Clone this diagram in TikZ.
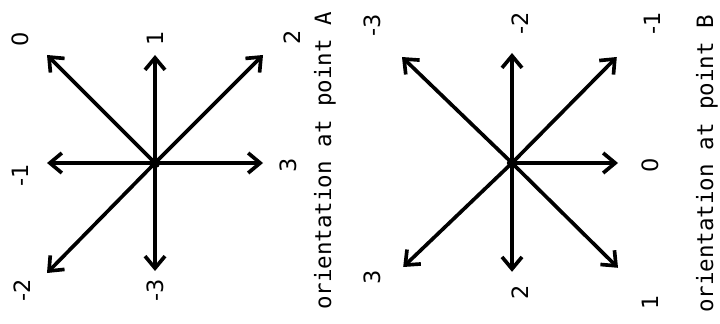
\documentclass[tikz,border=0pt]{standalone}
\usepackage{fontspec}
\setmonofont{DejaVu Sans Mono}
\newfontfamily\digitfont{DejaVu Sans}
\usetikzlibrary{arrows.meta}

\tikzset{
    ray/.style={line width=2.6pt, -{Straight Barb[length=3mm, width=5mm, line width=2.6pt]}},
    lbl/.style={rotate=90, inner sep=0pt, font=\digitfont\fontsize{16}{19}\selectfont},
    caption/.style={rotate=90, inner sep=0pt, font=\ttfamily\fontsize{16}{19}\selectfont},
    hub/.style={circle, fill=black, inner sep=0pt, minimum size=2.6mm}
}

\begin{document}
\begin{tikzpicture}
    \useasboundingbox (0, 0) rectangle (18, 8.075);

    % orientation at point A
    \begin{scope}[shift={(3.875, 4)}]
        \node[hub] (cA) at (0, 0) {};
        \coordinate (aN)  at (0, 2.7);
        \coordinate (aS)  at (0, -2.7);
        \coordinate (aW)  at (-2.7, 0);
        \coordinate (aE)  at (2.7, 0);
        \coordinate (aNW) at (-2.7, 2.7);
        \coordinate (aNE) at (2.7, 2.7);
        \coordinate (aSW) at (-2.7, -2.75);
        \draw[ray] (cA.center) -- (aN);
        \draw[ray] (cA.center) -- (aS);
        \draw[ray] (cA.center) -- (aW);
        \draw[ray] (cA.center) -- (aE);
        \draw[ray] (cA.center) -- (aNW);
        \draw[ray] (cA.center) -- (aNE);
        \draw[ray] (cA.center) -- (aSW);

        \node[lbl] (la0)  at (-3.375, 3.1)   {0};
        \node[lbl] (la1)  at (0, 3.125)      {1};
        \node[lbl] (la2)  at (3.425, 3.15)   {2};
        \node[lbl] (lam1) at (-3.375, -0.3)  {-1};
        \node[lbl] (la3)  at (3.325, -0.05)  {3};
        \node[lbl] (lam2) at (-3.325, -3.175) {-2};
        \node[lbl] (lam3) at (0, -3.175)     {-3};

        \node[caption] (titleA) at (4.25, 0.05) {orientation at point A};
    \end{scope}

    % orientation at point B
    \begin{scope}[shift={(12.8, 4)}]
        \node[hub] (cB) at (0, 0) {};
        \coordinate (bN)  at (0, 2.75);
        \coordinate (bS)  at (0, -2.72);
        \coordinate (bE)  at (2.65, 0);
        \coordinate (bNW) at (-2.75, 2.65);
        \coordinate (bNE) at (2.62, 2.65);
        \coordinate (bSW) at (-2.72, -2.6);
        \coordinate (bSE) at (2.65, -2.62);
        \draw[ray] (cB.center) -- (bN);
        \draw[ray] (cB.center) -- (bS);
        \draw[ray] (cB.center) -- (bE);
        \draw[ray] (cB.center) -- (bNW);
        \draw[ray] (cB.center) -- (bNE);
        \draw[ray] (cB.center) -- (bSW);
        \draw[ray] (cB.center) -- (bSE);

        \node[lbl] (lbm3) at (-3.5, 3.45)   {-3};
        \node[lbl] (lbm2) at (0.2, 3.5)     {-2};
        \node[lbl] (lbm1) at (3.5, 3.5)     {-1};
        \node[lbl] (lb3)  at (-3.5, -2.85)  {3};
        \node[lbl] (lb2)  at (0.2, -3.225)  {2};
        \node[lbl] (lb0)  at (3.45, -0.05)  {0};
        \node[lbl] (lb1)  at (3.45, -3.475) {1};

        \node[caption] (titleB) at (4.875, -0.025) {orientation at point B};
    \end{scope}
\end{tikzpicture}
\end{document}
